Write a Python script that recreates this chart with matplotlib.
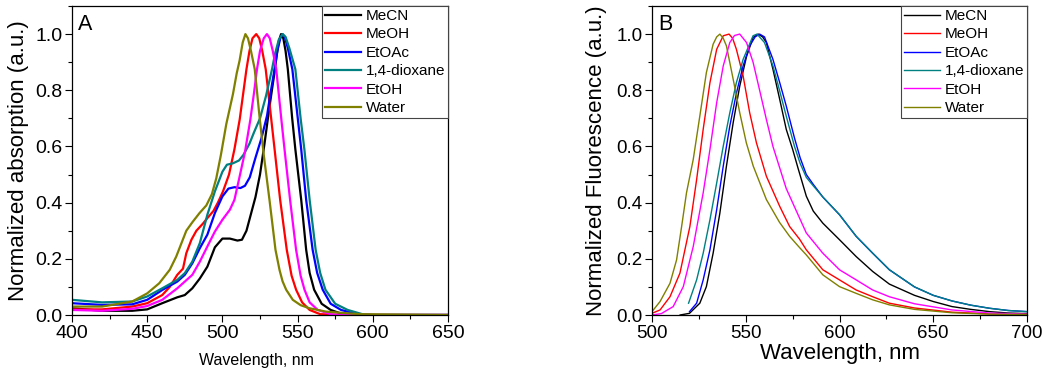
import matplotlib
matplotlib.use("Agg")
import matplotlib.pyplot as plt
from matplotlib.ticker import MultipleLocator, FormatStrFormatter

plt.rcParams['font.family'] = ['Liberation Sans', 'DejaVu Sans']

solvents = ["MeCN", "MeOH", "EtOAc", "1,4-dioxane", "EtOH", "Water"]
colors = ["#000000", "#FF0000", "#0000FF", "#008080", "#FF00FF", "#808000"]

# ---------------- Panel A: absorption ----------------
abs_mecn_x = [400, 420, 440, 450, 460, 470, 475, 480, 485, 490, 495, 500, 505, 510, 513, 516, 519, 522, 525, 528, 531, 534, 536, 537.5, 539, 540.5, 542, 543.5, 546.4, 548.5, 552.4, 555.7, 558, 561, 566, 572, 580, 600, 650]
abs_mecn_y = [0.024, 0.015, 0.015, 0.02, 0.042, 0.063, 0.071, 0.095, 0.13, 0.172, 0.241, 0.272, 0.272, 0.265, 0.268, 0.30, 0.36, 0.42, 0.50, 0.61, 0.73, 0.84, 0.92, 0.975, 1.0, 0.985, 0.94, 0.875, 0.70, 0.59, 0.41, 0.232, 0.15, 0.09, 0.04, 0.018, 0.003, 0.0, 0.0]

abs_meoh_x = [400, 420, 440, 450, 460, 465, 470, 473.8, 476, 479.4, 482.7, 487, 490, 494, 497, 500.4, 504.4, 508, 511.5, 516, 518, 520, 522.5, 524.5, 526.5, 528.8, 532.5, 534.7, 538.4, 542.8, 546, 549, 553, 558, 565, 580, 650]
abs_meoh_y = [0.02, 0.02, 0.03, 0.042, 0.071, 0.10, 0.143, 0.165, 0.22, 0.268, 0.30, 0.325, 0.345, 0.37, 0.40, 0.44, 0.50, 0.59, 0.696, 0.875, 0.94, 0.985, 1.0, 0.985, 0.94, 0.875, 0.696, 0.59, 0.41, 0.232, 0.14, 0.09, 0.045, 0.018, 0.003, 0.0, 0.0]

abs_etoac_x = [400, 420, 440, 450, 460, 470, 475, 480, 485, 490, 495, 500, 504, 508, 512, 515, 518.2, 522, 526, 529.7, 532, 534.7, 536.5, 538.5, 540, 541.5, 543.5, 546.5, 550.2, 552.4, 555.7, 560, 563, 566.7, 572, 578.9, 590, 600, 650]
abs_etoac_y = [0.042, 0.036, 0.038, 0.054, 0.089, 0.119, 0.143, 0.184, 0.238, 0.286, 0.363, 0.422, 0.45, 0.455, 0.452, 0.46, 0.49, 0.56, 0.63, 0.71, 0.79, 0.875, 0.94, 0.985, 1.0, 0.99, 0.95, 0.875, 0.696, 0.59, 0.41, 0.232, 0.15, 0.09, 0.04, 0.018, 0.003, 0.0, 0.0]

abs_diox_x = [400, 420, 440, 450, 460, 470, 475, 480, 485, 490, 495, 500, 503, 507, 511, 514, 518, 521, 525, 529, 533, 535, 537.5, 540, 542, 544.5, 548.5, 552, 554.5, 558, 562, 565, 568.5, 575, 583.3, 595, 650]
abs_diox_y = [0.054, 0.045, 0.048, 0.066, 0.095, 0.125, 0.149, 0.19, 0.256, 0.357, 0.44, 0.51, 0.535, 0.54, 0.55, 0.57, 0.61, 0.65, 0.70, 0.78, 0.875, 0.93, 0.98, 1.0, 0.99, 0.95, 0.875, 0.70, 0.59, 0.41, 0.232, 0.15, 0.09, 0.04, 0.018, 0.0, 0.0]

abs_etoh_x = [400, 420, 440, 450, 460, 470, 480, 485, 490, 495, 500, 505, 508, 511, 515, 518.6, 521, 523, 525, 527.5, 529.6, 531.5, 533.5, 535.8, 539.2, 541.3, 545, 549, 552, 554.6, 558, 563.4, 572, 580, 650]
abs_etoh_y = [0.018, 0.015, 0.022, 0.032, 0.054, 0.095, 0.143, 0.19, 0.244, 0.297, 0.339, 0.375, 0.41, 0.482, 0.58, 0.696, 0.79, 0.875, 0.94, 0.985, 1.0, 0.985, 0.94, 0.875, 0.696, 0.59, 0.41, 0.232, 0.14, 0.09, 0.045, 0.018, 0.003, 0.0, 0.0]

abs_water_x = [400, 420, 440, 450, 458, 465, 469.3, 476, 480, 484.8, 489.3, 493, 495.9, 499, 502.6, 507, 509.5, 511.4, 513.5, 515.3, 517, 519, 521.5, 524.8, 527.5, 531.3, 535.3, 538, 540, 542.4, 546.8, 552, 557.9, 568.9, 591, 650]
abs_water_y = [0.030, 0.03, 0.048, 0.077, 0.113, 0.161, 0.208, 0.30, 0.33, 0.363, 0.39, 0.43, 0.486, 0.57, 0.68, 0.786, 0.86, 0.905, 0.97, 1.0, 0.985, 0.94, 0.875, 0.70, 0.57, 0.41, 0.232, 0.16, 0.12, 0.09, 0.054, 0.035, 0.024, 0.012, 0.003, 0.0]

# ---------------- Panel B: fluorescence ----------------
fl_mecn_x = [515, 520, 525.5, 529, 532.6, 536.2, 539.7, 543.3, 546.8, 550.4, 553.9, 556.6, 559, 561, 564.5, 568.1, 571.6, 575, 578, 582.3, 586, 591.1, 600, 608.9, 617.7, 626.6, 640, 650, 660, 670, 680, 690, 700]
fl_mecn_y = [0.0, 0.006, 0.042, 0.101, 0.22, 0.363, 0.53, 0.685, 0.815, 0.92, 0.988, 1.0, 0.99, 0.97, 0.875, 0.768, 0.661, 0.59, 0.52, 0.423, 0.37, 0.327, 0.268, 0.208, 0.155, 0.11, 0.07, 0.048, 0.03, 0.02, 0.012, 0.007, 0.005]

fl_meoh_x = [498, 500, 504.3, 509.6, 514.9, 520.2, 523.8, 527.3, 530.9, 534.5, 538, 541.1, 543, 545, 548.6, 552.1, 555.7, 561, 568.1, 573.4, 578.7, 582.3, 591.1, 600, 608.9, 617.7, 626.6, 640, 660, 680, 700]
fl_meoh_y = [0.0, 0.006, 0.018, 0.065, 0.149, 0.315, 0.482, 0.661, 0.827, 0.946, 0.994, 1.0, 0.985, 0.946, 0.851, 0.72, 0.613, 0.494, 0.387, 0.315, 0.27, 0.232, 0.161, 0.125, 0.089, 0.065, 0.042, 0.025, 0.01, 0.004, 0.002]

fl_etoac_x = [520, 523.8, 527.3, 530.9, 534.5, 538, 541.5, 545.1, 548.6, 552.1, 555, 557.4, 560, 564.5, 568, 571.6, 576, 579, 582.3, 586, 591.1, 600, 608.9, 617.7, 626.6, 640, 650, 660, 670, 680, 690, 700]
fl_etoac_y = [0.012, 0.042, 0.125, 0.232, 0.375, 0.53, 0.673, 0.792, 0.887, 0.958, 0.99, 1.0, 0.99, 0.91, 0.83, 0.744, 0.63, 0.56, 0.50, 0.465, 0.42, 0.357, 0.28, 0.22, 0.161, 0.10, 0.07, 0.05, 0.035, 0.024, 0.016, 0.012]

fl_diox_x = [519.5, 523.8, 527.3, 530.9, 534.5, 538, 541.5, 545, 548.6, 553.9, 556, 560, 564.5, 568, 571.6, 576, 579, 582.3, 586, 591.1, 600, 608.9, 617.7, 626.6, 640, 650, 660, 670, 680, 690, 700]
fl_diox_y = [0.042, 0.125, 0.22, 0.339, 0.47, 0.601, 0.72, 0.827, 0.91, 0.994, 1.0, 0.97, 0.887, 0.80, 0.708, 0.60, 0.54, 0.49, 0.46, 0.42, 0.357, 0.28, 0.22, 0.161, 0.10, 0.07, 0.05, 0.035, 0.024, 0.016, 0.012]

fl_etoh_x = [500, 505, 511.3, 516.7, 522, 527.3, 530.9, 534.5, 538, 541.5, 544, 546.8, 550.4, 553.9, 557.4, 561, 564.5, 571.6, 578.7, 582.3, 591.1, 600, 608.9, 617.7, 626.6, 640, 660, 680, 700]
fl_etoh_y = [0.0, 0.005, 0.03, 0.101, 0.244, 0.435, 0.589, 0.756, 0.887, 0.97, 0.995, 1.0, 0.97, 0.9, 0.8, 0.696, 0.6, 0.45, 0.345, 0.292, 0.22, 0.161, 0.125, 0.089, 0.065, 0.04, 0.018, 0.007, 0.003]

fl_water_x = [500, 504.3, 509.6, 513.1, 515.8, 518.4, 522, 525.5, 529, 532.6, 534.5, 536.2, 538, 539.7, 543.3, 546.8, 550.3, 554, 561, 568, 573.4, 578.7, 582.3, 591.1, 600, 608.9, 617.7, 626.6, 640, 660, 680, 700]
fl_water_y = [0.012, 0.048, 0.113, 0.196, 0.315, 0.435, 0.554, 0.708, 0.863, 0.964, 0.99, 1.0, 0.985, 0.958, 0.839, 0.72, 0.613, 0.53, 0.411, 0.33, 0.28, 0.24, 0.214, 0.143, 0.101, 0.077, 0.054, 0.036, 0.02, 0.008, 0.003, 0.002]

abs_x = [abs_mecn_x, abs_meoh_x, abs_etoac_x, abs_diox_x, abs_etoh_x, abs_water_x]
abs_y = [abs_mecn_y, abs_meoh_y, abs_etoac_y, abs_diox_y, abs_etoh_y, abs_water_y]
fl_x = [fl_mecn_x, fl_meoh_x, fl_etoac_x, fl_diox_x, fl_etoh_x, fl_water_x]
fl_y = [fl_mecn_y, fl_meoh_y, fl_etoac_y, fl_diox_y, fl_etoh_y, fl_water_y]

fig = plt.figure(figsize=(10.48, 3.73), dpi=100, facecolor='white')
W, H = 1048, 373
axA = fig.add_axes([72 / W, 1 - 315 / H, (448 - 72) / W, (315 - 6) / H])
axB = fig.add_axes([652 / W, 1 - 315 / H, (1027 - 652) / W, (315 - 6) / H])


def style(ax, xlim, tick_fs):
    ax.set_xlim(*xlim)
    ax.set_ylim(0, 1.1)
    ax.xaxis.set_major_locator(MultipleLocator(50))
    ax.xaxis.set_minor_locator(MultipleLocator(25))
    ax.yaxis.set_major_locator(MultipleLocator(0.2))
    ax.yaxis.set_minor_locator(MultipleLocator(0.1))
    ax.yaxis.set_major_formatter(FormatStrFormatter('%.1f'))
    ax.tick_params(which='both', direction='out', top=False, right=False, labelsize=tick_fs, pad=2, width=0.8)
    ax.tick_params(which='major', length=5)
    ax.tick_params(which='minor', length=3)
    for s in ax.spines.values():
        s.set_linewidth(0.9)


def legend(ax):
    leg = ax.legend(loc='upper right', bbox_to_anchor=(1, 1), borderaxespad=0, fontsize=11,
                    handlelength=2.35, handletextpad=0.3, labelspacing=0.29, borderpad=0.2,
                    fancybox=False, framealpha=1, edgecolor='#444444')
    leg.get_frame().set_linewidth(0.8)
    return leg


for xs, ys, lab, c in zip(abs_x, abs_y, solvents, colors):
    axA.plot(xs, ys, color=c, lw=1.6, label=lab)
style(axA, (400, 650), 14)
axA.set_ylabel("Normalized absorption (a.u.)", fontsize=16)
axA.yaxis.set_label_coords(-0.142, 0.5)
axA.yaxis.label.set_verticalalignment('center')
axA.set_xlabel("Wavelength, nm", fontsize=11.5)
axA.xaxis.set_label_coords(0.49, -0.146)
axA.xaxis.label.set_verticalalignment('center')
axA.text(0.017, 0.975, "A", transform=axA.transAxes, fontsize=15.5, va='top', ha='left')
legend(axA)

for xs, ys, lab, c in zip(fl_x, fl_y, solvents, colors):
    axB.plot(xs, ys, color=c, lw=1.0, label=lab)
style(axB, (500, 700), 13.5)
axB.set_ylabel("Normalized Fluorescence (a.u.)", fontsize=16)
axB.yaxis.set_label_coords(-0.147, 0.5)
axB.yaxis.label.set_verticalalignment('center')
axB.set_xlabel("Wavelength, nm", fontsize=16)
axB.xaxis.set_label_coords(0.5, -0.123)
axB.xaxis.label.set_verticalalignment('center')
axB.text(0.017, 0.975, "B", transform=axB.transAxes, fontsize=15.5, va='top', ha='left')
legend(axB)

fig.savefig("out.png", dpi=100, facecolor='white')
